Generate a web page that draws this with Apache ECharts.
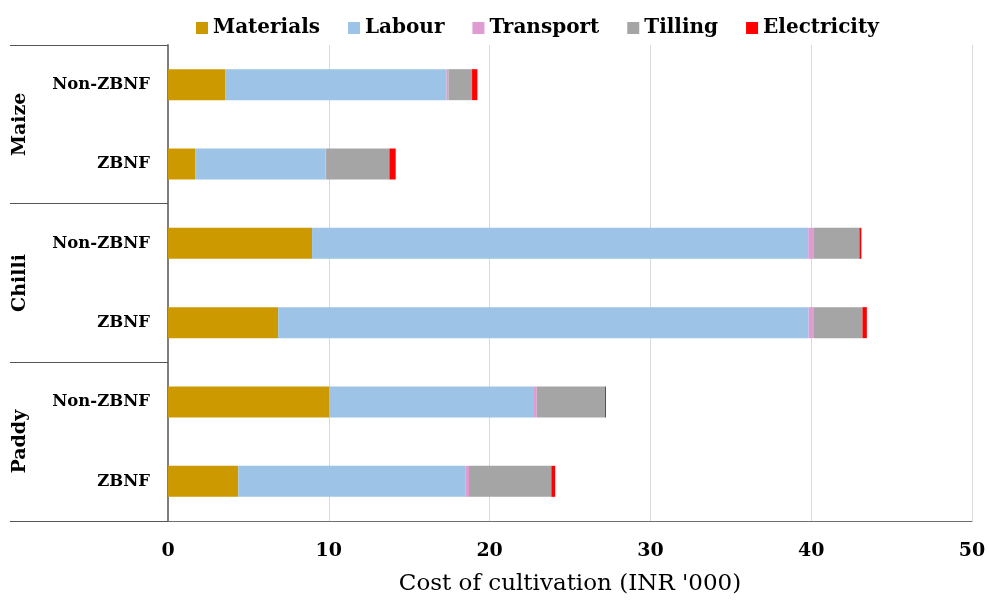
<!DOCTYPE html>
<html>
<head>
<meta charset="utf-8">
<script src="https://cdn.jsdelivr.net/npm/echarts@6/dist/echarts.min.js"></script>
<style>
  html, body { margin: 0; padding: 0; background: #fff; }
  #main { width: 989px; height: 601px; }
</style>
</head>
<body>
<div id="main"></div>
<script type="text/javascript">
// categories, top to bottom
var rows = ['Non-ZBNF', 'ZBNF', 'Non-ZBNF', 'ZBNF', 'Non-ZBNF', 'ZBNF'];
var crops = ['Maize', 'Chilli', 'Paddy'];
var xTicks = [0, 10, 20, 30, 40, 50];

// cost components (INR '000)
var materials   = [3.55, 1.71, 8.96, 6.85, 10.04, 4.37];
var labour      = [13.77, 8.08, 30.86, 32.99, 12.72, 14.12];
var transport   = [0.12, 0.04, 0.31, 0.33, 0.17, 0.23];
var tilling     = [1.47, 3.94, 2.87, 3.02, 4.25, 5.12];
var electricity = [0.33, 0.39, 0.12, 0.27, 0.06, 0.24];

var names  = ['Materials', 'Labour', 'Transport', 'Tilling', 'Electricity'];
var values = [materials, labour, transport, tilling, electricity];
var colors = ['#CC9A00', '#9DC3E6', '#E09BD3', '#A5A5A5', '#FF0000'];

var myChart = echarts.init(document.getElementById('main'));

var series = [];
for (var i = 0; i < names.length; i++) {
  series.push({
    name: names[i],
    type: 'bar',
    stack: 'cost',
    yAxisIndex: 0,
    barWidth: 31,
    itemStyle: { color: colors[i] },
    data: values[i]
  });
}

var option = {
  animation: false,
  textStyle: { fontFamily: 'DejaVu Serif', color: '#000' },
  color: colors,
  legend: {
    top: 13,
    left: 191,
    itemWidth: 12,
    itemHeight: 12,
    itemGap: 28,
    icon: 'rect',
    textStyle: { fontFamily: 'DejaVu Serif', fontWeight: 'bold', fontSize: 20, color: '#000' },
    data: names
  },
  grid: { left: 168, right: 17, top: 45, bottom: 80, outerBoundsMode: 'none' },
  xAxis: {
    type: 'value',
    min: 0,
    max: 50,
    interval: 10,
    name: "Cost of cultivation (INR '000)",
    nameLocation: 'middle',
    nameGap: 52,
    nameTextStyle: { fontFamily: 'DejaVu Serif', fontSize: 23, color: '#000' },
    axisLine: { show: true, lineStyle: { color: '#6f6f6f', width: 1 } },
    axisTick: { show: false },
    axisLabel: {
      margin: 21,
      fontFamily: 'DejaVu Serif', fontWeight: 'bold', fontSize: 19, color: '#000',
      formatter: function (v) { return xTicks.indexOf(v) >= 0 ? String(v) : ''; }
    },
    splitLine: { show: true, lineStyle: { color: '#d9d9d9', width: 1 } }
  },
  yAxis: [
    {
      type: 'category',
      inverse: true,
      data: rows,
      axisLine: { show: true, lineStyle: { color: '#7f7f7f', width: 2 } },
      axisTick: { show: false },
      axisLabel: {
        margin: 18,
        fontFamily: 'DejaVu Serif', fontWeight: 'bold', fontSize: 16.5, color: '#000'
      }
    },
    {
      type: 'category',
      inverse: true,
      position: 'left',
      data: crops,
      axisLine: { show: false },
      axisTick: { show: true, length: 158, lineStyle: { color: '#555', width: 1 } },
      axisLabel: {
        rotate: 90,
        margin: 138,
        fontFamily: 'DejaVu Serif', fontWeight: 'bold', fontSize: 19, color: '#000'
      }
    }
  ],
  series: series
};

myChart.setOption(option);
</script>
</body>
</html>
